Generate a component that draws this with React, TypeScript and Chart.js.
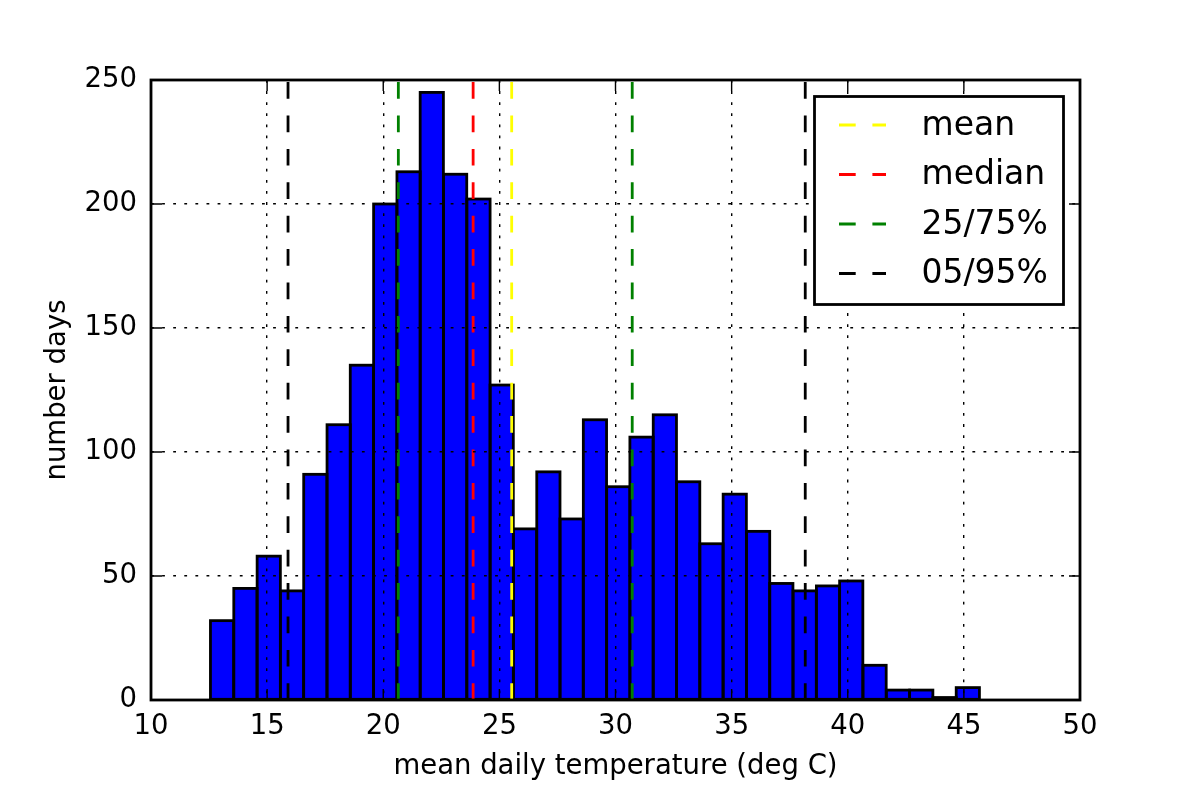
import { useEffect, useRef } from "react";
import { Chart, registerables, type ChartConfiguration, type Plugin } from "chart.js";

Chart.register(...registerables);

// histogram bins (deg C) and counts per bin
const binEdges = [
  12.56, 13.56, 14.57, 15.57, 16.57, 17.58, 18.58, 19.58, 20.59, 21.59, 22.59, 23.6, 24.6, 25.6, 26.61,
  27.61, 28.61, 29.62, 30.62, 31.62, 32.63, 33.63, 34.63, 35.64, 36.64, 37.64, 38.65, 39.65, 40.65,
  41.66, 42.66, 43.67, 44.67, 45.67
];
const dayCounts = [
  32, 45, 58, 44, 91, 111, 135, 200, 213, 245, 212, 202, 127, 69, 92, 73, 113, 86, 106, 115, 88, 63, 83,
  68, 47, 44, 46, 48, 14, 4, 4, 1, 5
];

// summary statistics drawn as dashed vertical lines
const markerLabels = ["mean", "median", "25/75%", "05/95%"];
const markerColors = ["#ffff00", "#ff0000", "#008000", "#000000"];
const markerValues = [[25.53], [23.87], [20.65, 30.72], [15.9, 38.17]];

const xMin = 10;
const xMax = 50;
const xStep = 5;
const yMin = 0;
const yMax = 250;
const yStep = 50;

const FONT = "'DejaVu Sans', sans-serif";
const DASH = [16.7, 16.7];

// matplotlib-like bar edges: stroke centred on each bar outline
const barEdgePlugin: Plugin<"bar"> = {
  id: "barEdges",
  afterDatasetDraw(chart, args) {
    if (args.meta.type !== "bar") {
      return;
    }
    const { ctx } = chart;
    ctx.save();
    ctx.strokeStyle = "#000";
    ctx.lineWidth = 2.8;
    ctx.lineJoin = "miter";
    args.meta.data.forEach((element) => {
      const { x, y, base, width } = element.getProps(["x", "y", "base", "width"], true) as any;
      ctx.strokeRect(x - width / 2, y, width, base - y);
    });
    ctx.restore();
  }
};

const framePlugin: Plugin<"bar"> = {
  id: "frameTicks",
  afterDraw(chart) {
    const { ctx, chartArea } = chart;
    const { left, right, top, bottom } = chartArea;
    const xScale = chart.scales.x;
    const yScale = chart.scales.y;
    const tickLen = 11;

    ctx.save();
    ctx.strokeStyle = "#000";
    ctx.lineWidth = 1.4;
    ctx.beginPath();
    xScale.ticks.forEach((tick) => {
      const px = xScale.getPixelForValue(tick.value);
      ctx.moveTo(px, bottom);
      ctx.lineTo(px, bottom - tickLen);
      ctx.moveTo(px, top);
      ctx.lineTo(px, top + tickLen);
    });
    yScale.ticks.forEach((tick) => {
      const py = yScale.getPixelForValue(tick.value);
      ctx.moveTo(left, py);
      ctx.lineTo(left + tickLen, py);
      ctx.moveTo(right, py);
      ctx.lineTo(right - tickLen, py);
    });
    ctx.stroke();

    ctx.lineWidth = 2.8;
    ctx.strokeRect(left, top, right - left, bottom - top);
    ctx.restore();
  }
};

const legendPlugin: Plugin<"bar"> = {
  id: "boxLegend",
  afterDraw(chart) {
    const { ctx, chartArea } = chart;
    const boxWidth = 249;
    const boxHeight = 208;
    const boxLeft = chartArea.right - 16.5 - boxWidth;
    const boxTop = chartArea.top + 16.5;

    ctx.save();
    ctx.fillStyle = "#fff";
    ctx.fillRect(boxLeft, boxTop, boxWidth, boxHeight);
    ctx.lineWidth = 2.8;
    ctx.strokeStyle = "#000";
    ctx.strokeRect(boxLeft, boxTop, boxWidth, boxHeight);

    markerLabels.forEach((label, k) => {
      const y = boxTop + 28.5 + k * 49.5;
      ctx.beginPath();
      ctx.setLineDash(DASH);
      ctx.strokeStyle = markerColors[k];
      ctx.lineWidth = 2.8;
      ctx.moveTo(boxLeft + 24.5, y);
      ctx.lineTo(boxLeft + 71.5, y);
      ctx.stroke();
      ctx.setLineDash([]);
      ctx.fillStyle = "#000";
      ctx.font = `33px ${FONT}`;
      ctx.textBaseline = "middle";
      ctx.textAlign = "left";
      ctx.fillText(label, boxLeft + 107, y + 1);
    });
    ctx.restore();
  }
};

export default function App() {
  const canvasRef = useRef<HTMLCanvasElement | null>(null);

  useEffect(() => {
    const canvas = canvasRef.current;
    if (!canvas) {
      return;
    }

    const bars = dayCounts.map((count, i) => ({
      x: (binEdges[i] + binEdges[i + 1]) / 2,
      y: count
    }));

    const lines = markerValues.flatMap((values, k) =>
      values.map((value) => ({
        type: "line" as const,
        label: markerLabels[k],
        data: [
          { x: value, y: yMin },
          { x: value, y: yMax }
        ],
        borderColor: markerColors[k],
        borderWidth: 2.8,
        borderDash: DASH,
        pointRadius: 0,
        fill: false,
        order: 1
      }))
    );

    const config: ChartConfiguration<"bar"> = {
      type: "bar",
      data: {
        datasets: [
          {
            label: "days",
            data: bars as any,
            backgroundColor: "#0000ff",
            borderWidth: 0,
            inflateAmount: 0,
            barPercentage: 1,
            categoryPercentage: 1,
            order: 2
          },
          ...(lines as any[])
        ]
      },
      options: {
        responsive: false,
        animation: false,
        layout: {
          padding: { left: 0, top: 80, right: 120, bottom: 0 }
        },
        plugins: {
          legend: { display: false },
          tooltip: { enabled: false }
        },
        scales: {
          x: {
            type: "linear",
            min: xMin,
            max: xMax,
            offset: false,
            afterFit: (scale) => {
              scale.height = 100;
            },
            ticks: {
              stepSize: xStep,
              autoSkip: false,
              maxRotation: 0,
              padding: 10,
              color: "#000",
              font: { family: FONT, size: 27.5 }
            },
            grid: {
              color: "#000",
              lineWidth: 1.4,
              drawTicks: false,
              offset: false,
              z: 1
            },
            border: { display: false, dash: [2.8, 8.3] },
            title: {
              display: true,
              text: "mean daily temperature (deg C)",
              color: "#000",
              font: { family: FONT, size: 27.5 },
              padding: { top: 0, bottom: 16.5 }
            }
          },
          y: {
            min: yMin,
            max: yMax,
            afterFit: (scale) => {
              scale.width = 151;
            },
            ticks: {
              stepSize: yStep,
              padding: 14,
              color: "#000",
              font: { family: FONT, size: 27.5 }
            },
            grid: {
              color: "#000",
              lineWidth: 1.4,
              drawTicks: false,
              z: 1
            },
            border: { display: false, dash: [2.8, 8.3] },
            title: {
              display: true,
              text: "number days",
              color: "#000",
              font: { family: FONT, size: 27.5 },
              padding: { top: 41, bottom: 0 }
            }
          }
        }
      },
      plugins: [barEdgePlugin, framePlugin, legendPlugin]
    };

    const chart = new Chart(canvas, config);
    return () => {
      chart.destroy();
    };
  }, []);

  return (
    <div style={{ position: "fixed", left: 0, top: 0, width: 1200, height: 800, background: "#fff" }}>
      <canvas ref={canvasRef} width={1200} height={800} />
    </div>
  );
}
